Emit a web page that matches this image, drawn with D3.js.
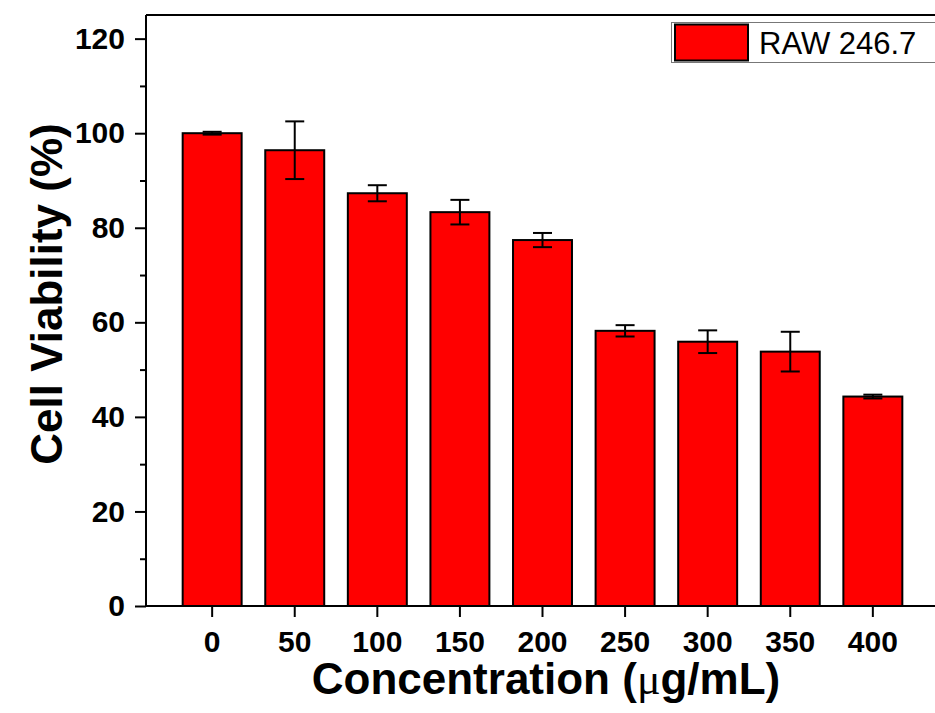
<!DOCTYPE html>
<html>
<head>
<meta charset="UTF-8">
<title>Cell viability</title>
<script src="https://cdn.jsdelivr.net/npm/d3@7"></script>
<style>
* { margin: 0; padding: 0; }
body { background: #fff; }
#chart { display: block; }
text { font-family: "Liberation Sans", Arial, sans-serif; }
</style>
</head>
<body>
<svg id="chart"></svg>
<script>
// data
const concentrations = ["0", "50", "100", "150", "200", "250", "300", "350", "400"];
const viability = [100, 96.4, 87.3, 83.3, 77.4, 58.2, 55.9, 53.8, 44.3];
const errors = [0.3, 6.1, 1.7, 2.6, 1.5, 1.2, 2.4, 4.2, 0.4];
const yTicks = [0, 20, 40, 60, 80, 100, 120];
const seriesName = "RAW 246.7";

(function() {
    const width = 935, height = 713;
    const left = 146, top = 15, bottom = 606, right = 939;

    const svg = d3.select("#chart")
        .attr("width", width)
        .attr("height", height);

    const x = d3.scaleBand()
        .domain(concentrations)
        .range([left, right])
        .paddingInner(0.286)
        .paddingOuter(0.444);

    const y = d3.scaleLinear()
        .domain([0, 125])
        .range([bottom, top]);

    // bars
    svg.append("g").selectAll("rect")
        .data(viability)
        .enter()
        .append("rect")
        .attr("x", (d, i) => x(concentrations[i]))
        .attr("y", d => y(d))
        .attr("width", x.bandwidth())
        .attr("height", d => y(0) - y(d))
        .style("fill", "#ff0000")
        .style("stroke", "#000")
        .style("stroke-width", "2px");

    // error bars
    const eb = svg.append("g").selectAll("g")
        .data(viability)
        .enter()
        .append("g")
        .attr("transform", (d, i) => `translate(${x(concentrations[i]) + x.bandwidth() / 2},0)`)
        .style("stroke", "#000")
        .style("stroke-width", "2px");
    eb.append("line")
        .attr("y1", (d, i) => y(d + errors[i]))
        .attr("y2", (d, i) => y(d - errors[i]));
    eb.append("line")
        .attr("x1", -9.5).attr("x2", 9.5)
        .attr("y1", (d, i) => y(d + errors[i]))
        .attr("y2", (d, i) => y(d + errors[i]));
    eb.append("line")
        .attr("x1", -9.5).attr("x2", 9.5)
        .attr("y1", (d, i) => y(d - errors[i]))
        .attr("y2", (d, i) => y(d - errors[i]));

    // y axis with minor ticks
    const yMinor = svg.append("g")
        .attr("transform", `translate(${left},0)`)
        .call(d3.axisLeft(y).tickValues(d3.range(10, 125, 20)).tickSize(6).tickFormat(""));
    yMinor.select(".domain").remove();
    yMinor.selectAll("line").style("stroke-width", "2px");

    const yAxis = svg.append("g")
        .attr("transform", `translate(${left},0)`)
        .call(d3.axisLeft(y).tickValues(yTicks).tickSize(11).tickPadding(10).tickSizeOuter(0));
    yAxis.select(".domain").attr("d", `M0,${top}V${bottom}`).style("stroke-width", "2px");
    yAxis.selectAll("line").style("stroke-width", "2px");
    yAxis.selectAll("text")
        .style("font-size", "30px")
        .style("font-weight", "bold")
        .style("fill", "#000");

    // x axis
    const xAxis = svg.append("g")
        .attr("transform", `translate(0,${bottom})`)
        .call(d3.axisBottom(x).tickSize(11).tickPadding(14).tickSizeOuter(0));
    xAxis.select(".domain").attr("d", `M${left},0H${width}`).style("stroke-width", "2px");
    xAxis.selectAll("line").style("stroke-width", "2px");
    xAxis.selectAll("text")
        .style("font-size", "30px")
        .style("font-weight", "bold")
        .style("fill", "#000");

    // top frame line
    svg.append("line")
        .attr("x1", left).attr("x2", width)
        .attr("y1", top).attr("y2", top)
        .style("stroke", "#000")
        .style("stroke-width", "2px");

    // axis titles
    const xt = svg.append("text")
        .attr("x", 546)
        .attr("y", 694)
        .attr("text-anchor", "middle")
        .style("font-size", "44px")
        .style("font-weight", "bold");
    xt.append("tspan").text("Concentration (");
    xt.append("tspan")
        .style("font-family", "'Liberation Serif', 'Times New Roman', serif")
        .style("font-weight", "normal")
        .text("\u03bc");
    xt.append("tspan").text("g/mL)");

    svg.append("text")
        .attr("transform", "translate(62,294) rotate(-90)")
        .attr("text-anchor", "middle")
        .style("font-size", "44px")
        .style("font-weight", "bold")
        .text("Cell Viability (%)");

    // legend
    const lg = svg.append("g");
    lg.append("rect")
        .attr("x", 671.5).attr("y", 22.5)
        .attr("width", 280).attr("height", 40)
        .style("fill", "#fff")
        .style("stroke", "#777")
        .style("stroke-width", "1px");
    lg.append("rect")
        .attr("x", 675).attr("y", 24.5)
        .attr("width", 73).attr("height", 36)
        .style("fill", "#ff0000")
        .style("stroke", "#000")
        .style("stroke-width", "2px");
    lg.append("text")
        .attr("x", 759).attr("y", 54)
        .style("font-size", "31px")
        .text(seriesName);
})();
</script>
</body>
</html>
